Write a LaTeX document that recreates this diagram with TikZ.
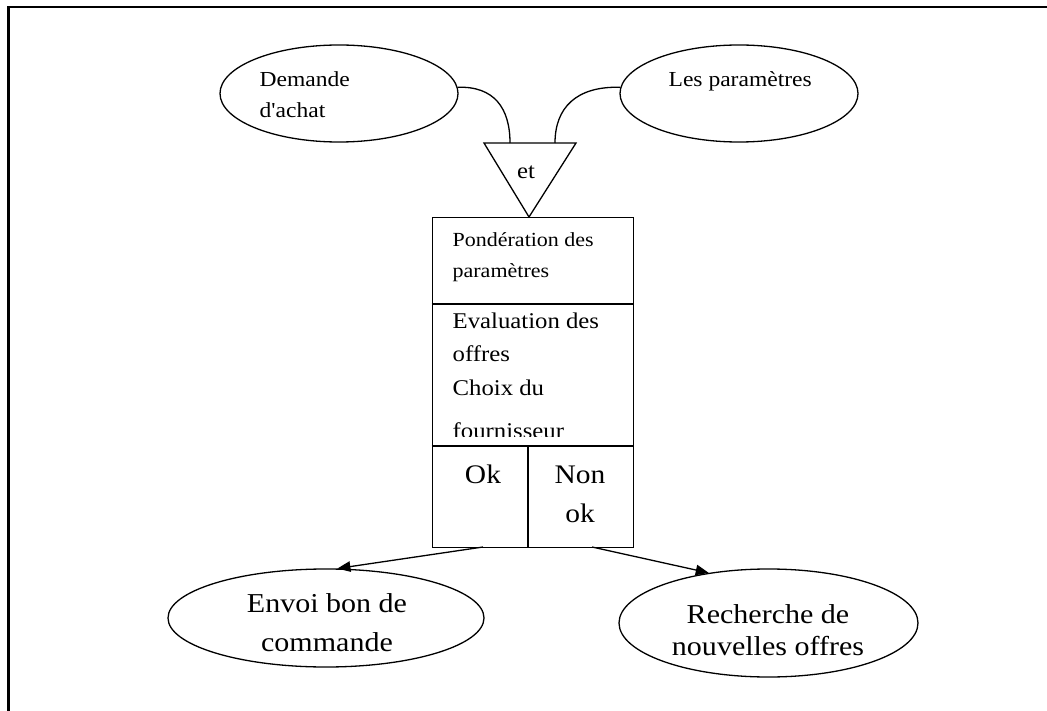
\documentclass[tikz,border=0pt]{standalone}
\usepackage{fontspec}
\setmainfont{Liberation Serif}[FakeStretch=1.1,Ligatures=TeXOff]
\usetikzlibrary{arrows.meta,shapes.geometric}
\begin{document}
\begin{tikzpicture}[x=1pt,y=-1pt,
  line width=1.3pt,
  oval/.style={draw,ellipse,inner sep=0pt,line width=1.3pt},
  arr/.style={line width=1.3pt,-{Triangle[length=13pt,width=10.5pt]}},
  lbl/.style={inner sep=0pt,anchor=base west},
  clbl/.style={inner sep=0pt,anchor=base},
  fa/.style={font=\fontsize{21.4}{25}\selectfont},
  fb/.style={font=\fontsize{20}{24}\selectfont},
  fc/.style={font=\fontsize{22.5}{27}\selectfont},
  fd/.style={font=\fontsize{26.8}{31}\selectfont},
  fe/.style={font=\fontsize{27.3}{32}\selectfont},
]
\useasboundingbox (0,0) rectangle (1047,711);
% frame
\draw[line width=2.3pt] (1047,7) -- (8.5,7) -- (8.5,711);

% top ellipses
\node[oval,minimum width=238pt,minimum height=97pt] (e1) at (339,93.5) {};
\node[oval,minimum width=238pt,minimum height=97pt] (e2) at (739,93.5) {};
\node[lbl,fa] (t1a) at (259,87) {Demande};
\node[lbl,fa] (t1b) at (259,118) {d'achat};
\node[lbl,fa] (t2a) at (668,87) {Les paramètres};

% triangle
\coordinate (tl) at (484,143);
\coordinate (tr) at (576,143);
\coordinate (tv) at (529,217);
\draw[line join=miter] (tl) -- (tr) -- (tv) -- cycle;
\node[clbl,fc] (et) at (526,179) {et};
\coordinate (ta) at (510,143);
\coordinate (tb) at (555,143);
\draw (e1.3) .. controls (494,86) and (510,108) .. (ta);
\draw (e2.177) .. controls (576,86) and (555,108) .. (tb);

% box
\node[draw,inner sep=0pt,minimum width=201pt,minimum height=330pt,anchor=north west] (box) at (431.5,217) {};
\draw (431.5,304) -- (632.5,304);
\draw (431.5,446) -- (632.5,446);
\draw (528,446) -- (528,547);
\node[lbl,fb] (p1) at (452,247) {Pondération des};
\node[lbl,fb] (p2) at (452,278) {paramètres};
\node[lbl,fc] (q1) at (452,329) {Evaluation des};
\node[lbl,fc] (q2) at (452,362) {offres};
\node[lbl,fc] (q3) at (452,395) {Choix du};
\begin{scope}
\clip (432,400) rectangle (632,436.5);
\node[lbl,fc] (q4) at (452,438) {fournisseur};
\end{scope}
\node[clbl,fd] (ok) at (483,483) {Ok};
\node[clbl,fd] (non) at (580,483) {Non};
\node[clbl,fd] (nok) at (580,522) {ok};

% bottom ellipses
\node[oval,minimum width=316pt,minimum height=98pt] (e3) at (326,618) {};
\node[oval,minimum width=299pt,minimum height=108pt] (e4) at (768.5,623) {};
\node[clbl,fe] (b1) at (327,612) {Envoi bon de};
\node[clbl,fe] (b2) at (327,651) {commande};
\node[clbl,fe] (c1) at (768,623) {Recherche de};
\node[clbl,fe] (c2) at (768,655) {nouvelles offres};

% arrows
\coordinate (okb) at (483,547);
\coordinate (nokb) at (592,547);
\draw[arr] (okb) -- (e3.77);
\draw[arr] (nokb) -- (e4.140);
\end{tikzpicture}
\end{document}
